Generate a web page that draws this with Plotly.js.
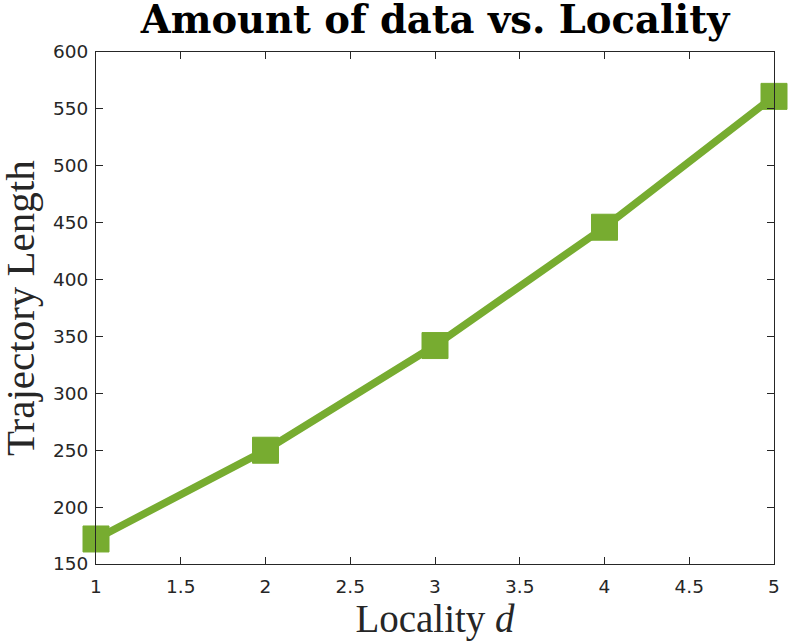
<!DOCTYPE html>
<html>
<head>
<meta charset="utf-8">
<script src="https://cdn.plot.ly/plotly-3.0.1.min.js"></script>
<style>html,body{margin:0;padding:0;background:#fff;}#chart{width:791px;height:642px;}</style>
</head>
<body>
<div id="chart"></div>
<script>
const locality = [1, 2, 3, 4, 5];
const trajectoryLength = [172, 250, 342, 446, 561];
const xTicks = [1, 1.5, 2, 2.5, 3, 3.5, 4, 4.5, 5];
const xTickLabels = ['1', '1.5', '2', '2.5', '3', '3.5', '4', '4.5', '5'];
const yTicks = [150, 200, 250, 300, 350, 400, 450, 500, 550, 600];
const yTitle = 'Trajectory Length';

const green = '#77AC30';
const tickFont = {family: 'DejaVu Sans, sans-serif', size: 18.5, color: '#262626'};
const serif = 'Liberation Serif, serif';

const trace = {
  x: locality,
  y: trajectoryLength,
  type: 'scatter',
  mode: 'lines+markers',
  line: {color: green, width: 7.5},
  marker: {symbol: 'square', size: 26, color: green, line: {color: green, width: 1}},
  cliponaxis: false,
  hoverinfo: 'none'
};

const axisCommon = {
  showgrid: false,
  zeroline: false,
  showline: true,
  linecolor: '#262626',
  linewidth: 1,
  mirror: 'ticks',
  ticks: 'inside',
  ticklen: 7,
  tickwidth: 1,
  tickcolor: '#262626',
  tickfont: tickFont
};

const layout = {
  width: 791,
  height: 642,
  margin: {l: 96, r: 17, t: 52, b: 78},
  paper_bgcolor: '#fff',
  plot_bgcolor: '#fff',
  showlegend: false,
  title: {
    text: '<b>Amount of data vs. Locality</b>',
    font: {family: 'DejaVu Serif, serif', size: 38.5, color: '#000'},
    x: 0.55, xanchor: 'center',
    yref: 'container', y: 0.99, yanchor: 'top'
  },
  xaxis: Object.assign({}, axisCommon, {
    range: [1, 5],
    tickvals: xTicks,
    ticktext: xTickLabels,
    ticklabelstandoff: 6,
    title: {text: 'Locality <i>d</i>', font: {family: serif, size: 39, color: '#262626'}, standoff: 4}
  }),
  yaxis: Object.assign({}, axisCommon, {
    range: [150, 600],
    tickvals: yTicks,
    ticklabelstandoff: 3
  }),
  annotations: [{
    text: yTitle,
    textangle: -90,
    xref: 'paper', yref: 'paper',
    x: -0.1121, y: 0.5,
    xanchor: 'center', yanchor: 'middle',
    showarrow: false,
    font: {family: serif, size: 41, color: '#262626'}
  }]
};

Plotly.newPlot('chart', [trace], layout, {staticPlot: true, displayModeBar: false});
</script>
</body>
</html>
